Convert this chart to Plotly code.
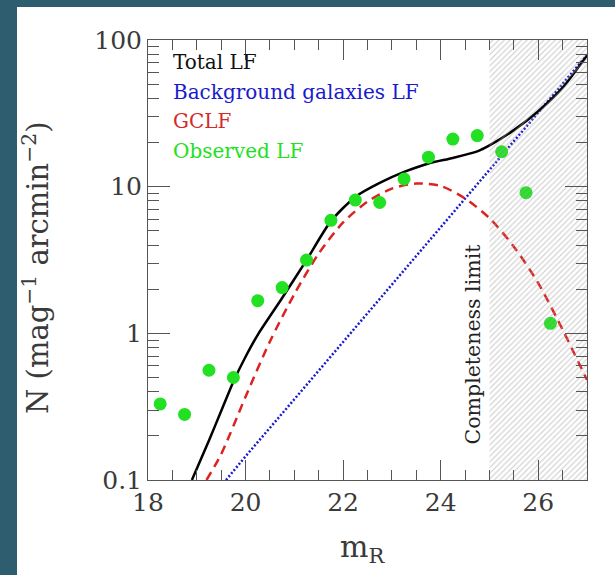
import plotly.graph_objects as go

# ---------------- data ----------------
obs_mag = [18.25, 18.75, 19.25, 19.75, 20.25, 20.75, 21.25, 21.75, 22.25,
           22.75, 23.25, 23.75, 24.25, 24.75, 25.25, 25.75, 26.25]
obs_n = [0.33, 0.28, 0.56, 0.50, 1.67, 2.05, 3.16, 5.9, 8.1,
         7.8, 11.3, 15.9, 21.1, 22.3, 17.3, 9.1, 1.17]

total_mag = [18.9, 19.25, 19.5, 19.75, 20.0, 20.25, 20.75, 21.25, 21.75, 22.25,
             22.75, 23.25, 23.75, 24.25, 24.75, 25.0, 25.5, 26.0, 26.5, 27.0]
total_n = [0.1, 0.186, 0.295, 0.468, 0.692, 0.977, 1.74, 3.16, 5.82, 8.51,
           10.6, 12.6, 14.4, 15.7, 17.4, 19.1, 24.3, 32.7, 47.3, 78.5]

bkg_mag = [19.6, 20.0, 21.0, 22.0, 23.0, 24.0, 25.0, 26.0, 27.0]
bkg_n = [0.1, 0.145, 0.355, 0.87, 2.15, 5.3, 13.0, 32.0, 79.0]

gclf_mag = [19.2, 19.5, 20.0, 20.5, 21.0, 21.5, 22.0, 22.5, 23.0,
            23.5, 24.0, 24.5, 25.0, 25.5, 26.0, 26.5, 27.0]
gclf_n = [0.1, 0.15, 0.37, 0.88, 1.85, 3.5, 5.7, 7.9, 9.7,
          10.5, 10.1, 8.3, 6.1, 3.9, 2.2, 1.06, 0.48]

completeness_limit = 25.0
x_range = [18, 27]
y_range = [0.1, 100]

x_tickvals = [18, 20, 22, 24, 26]
x_ticktext = ["18", "20", "22", "24", "26"]
y_tickvals = [0.1, 1, 10, 100]
y_ticktext = ["0.1", "1", "10", "100"]

legend_labels = ["Total LF", "Background galaxies LF", "GCLF", "Observed LF"]
legend_colors = ["#111111", "#1a1acc", "#d42a2a", "#22e022"]

# ---------------- figure ----------------
SERIF = "DejaVu Serif"
AXIS_GRAY = "#555555"

fig = go.Figure()

fig.add_trace(go.Scatter(x=bkg_mag, y=bkg_n, mode="lines",
                         line=dict(color="#1a1acc", width=2.5, dash="2px,2px"),
                         showlegend=False))
fig.add_trace(go.Scatter(x=gclf_mag, y=gclf_n, mode="lines",
                         line=dict(color="#dd2222", width=2.5, dash="9px,6px",
                                   shape="spline", smoothing=0.8),
                         showlegend=False))
fig.add_trace(go.Scatter(x=total_mag, y=total_n, mode="lines",
                         line=dict(color="#000000", width=2.5,
                                   shape="spline", smoothing=0.7),
                         showlegend=False))
fig.add_trace(go.Scatter(x=obs_mag, y=obs_n, mode="markers",
                         marker=dict(color="#22e022", size=13, line=dict(width=0)),
                         showlegend=False))
# hatched region beyond the completeness limit (drawn over everything)
fig.add_trace(go.Scatter(
    x=[completeness_limit, x_range[1], x_range[1], completeness_limit, completeness_limit],
    y=[y_range[0], y_range[0], y_range[1], y_range[1], y_range[0]],
    mode="lines", line=dict(width=0), fill="toself",
    fillcolor="rgba(0,0,0,0)",
    fillpattern=dict(shape="/", fgcolor="#a8a8a8", size=4, solidity=0.3),
    showlegend=False, hoverinfo="skip"))

axis_common = dict(
    showgrid=False, zeroline=False, showline=True, linecolor=AXIS_GRAY, linewidth=1,
    mirror="ticks", ticks="inside", tickcolor=AXIS_GRAY, tickwidth=1,
    tickfont=dict(family=SERIF, size=25, color="#3a3a3a"),
)

fig.update_xaxes(range=x_range, tickvals=x_tickvals, ticktext=x_ticktext, ticklen=20,
                 minor=dict(dtick=0.5, ticks="inside", ticklen=10, tickcolor=AXIS_GRAY,
                            showgrid=False),
                 **axis_common)
fig.update_yaxes(type="log", range=[-1, 2], tickvals=y_tickvals, ticktext=y_ticktext,
                 ticklen=22,
                 minor=dict(dtick="D1", ticks="inside", ticklen=11, tickcolor=AXIS_GRAY,
                            showgrid=False),
                 **axis_common)

L, R, T, B = 148, 28, 40, 95
W, H = 615, 575
pw, ph = W - L - R, H - T - B

def px(xpix):
    return (xpix - L) / pw

def py(ypix):
    return (H - B - ypix) / ph

annotations = []
for i, (lab, col) in enumerate(zip(legend_labels, legend_colors)):
    annotations.append(dict(
        x=px(171), y=py(62 + 29.5 * i), xref="paper", yref="paper",
        xanchor="left", yanchor="middle", showarrow=False, text=lab,
        font=dict(family=SERIF, size=20, color=col)))

annotations.append(dict(
    x=24.66, y=-0.07, xref="x", yref="y", textangle=-90, showarrow=False,
    text="Completeness limit", xanchor="center", yanchor="middle",
    font=dict(family=SERIF, size=20.5, color="#222222")))

annotations.append(dict(
    x=px(36), y=py(268), xref="paper", yref="paper", textangle=-90, showarrow=False,
    text="N (mag<sup>−1</sup> arcmin<sup>−2</sup>)", xanchor="center", yanchor="middle",
    font=dict(family=SERIF, size=29, color="#3a3a3a")))

annotations.append(dict(
    x=px(362), y=py(548), xref="paper", yref="paper", showarrow=False,
    text="m<sub>R</sub>", xanchor="center", yanchor="middle",
    font=dict(family=SERIF, size=30, color="#3a3a3a")))

fig.update_layout(
    width=W, height=H,
    margin=dict(l=L, r=R, t=T, b=B, pad=0),
    paper_bgcolor="#2d5d6e",
    plot_bgcolor="white",
    annotations=annotations,
    shapes=[dict(type="rect", xref="paper", yref="paper", layer="below",
                 x0=px(17), x1=px(W + 20), y0=py(H + 20), y1=py(7),
                 fillcolor="white", line=dict(width=0))],
    showlegend=False,
)

fig.write_html("out.html",
               config={"displayModeBar": False},
               post_script="document.body.style.margin='0px';"
                           "document.body.style.overflow='hidden';")
